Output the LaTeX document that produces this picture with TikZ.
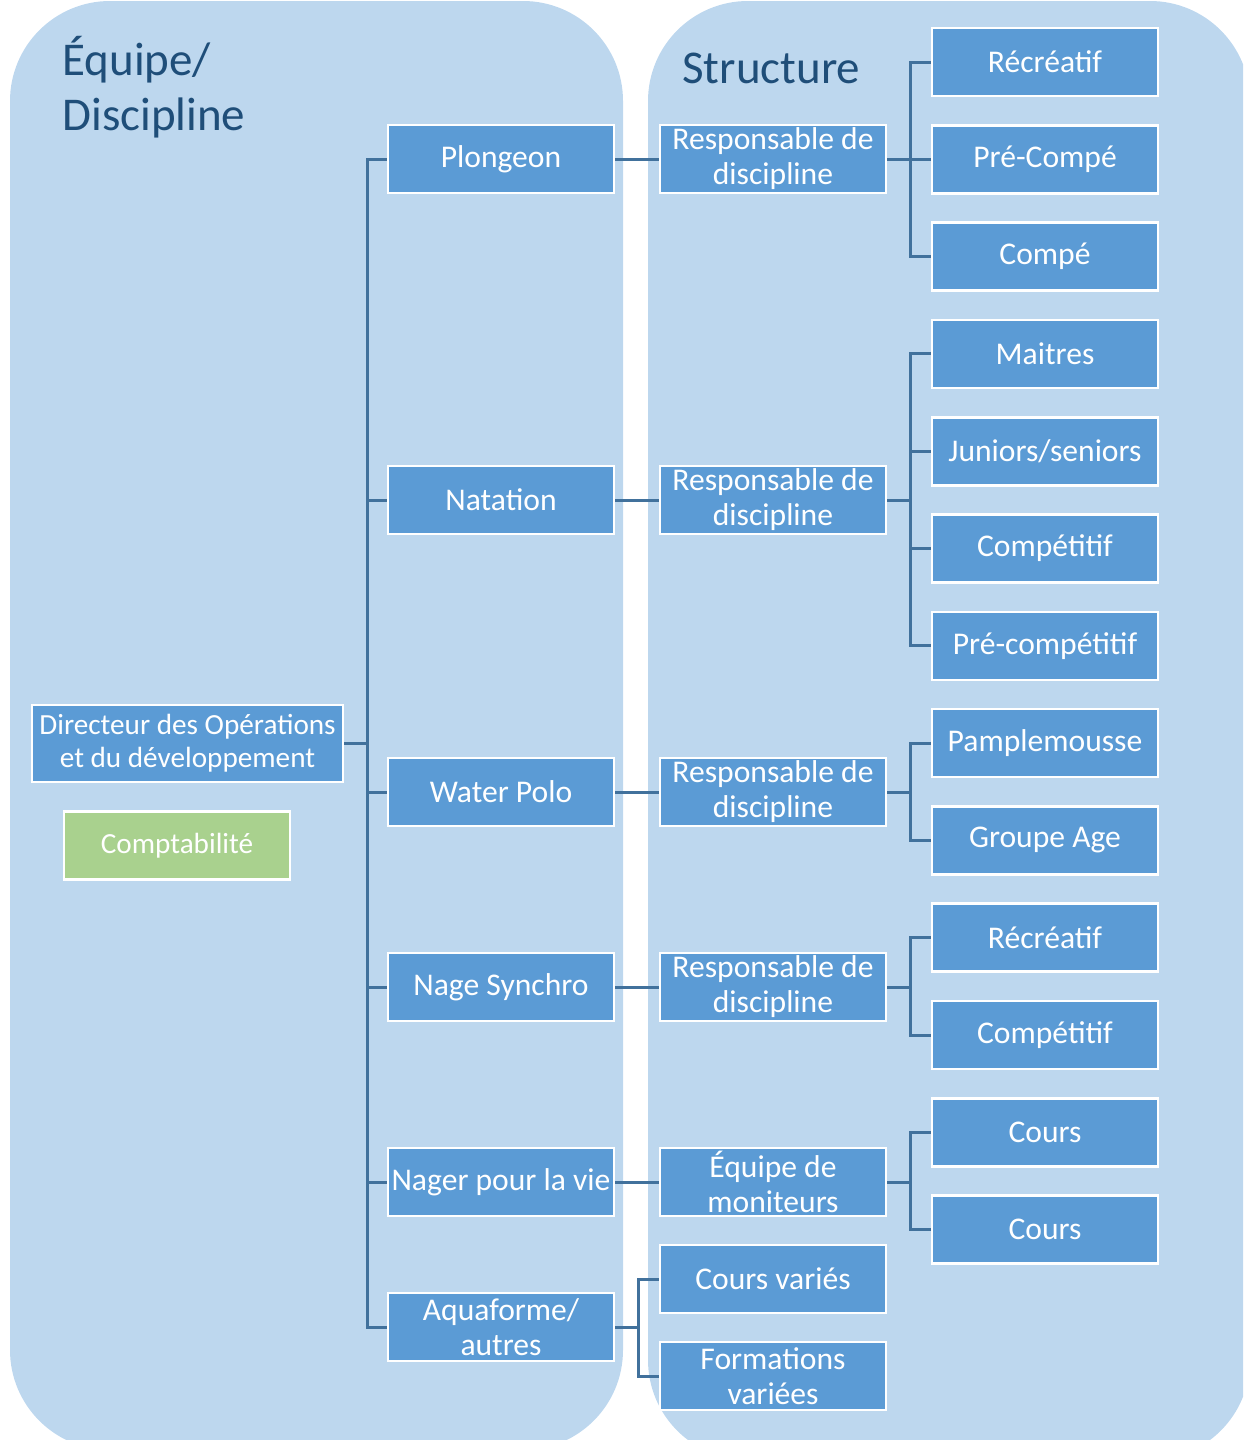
\documentclass[tikz,border=0pt]{standalone}
\usepackage{fontspec}
\setmainfont{Carlito}
\definecolor{panelblue}{HTML}{BDD7EE}
\definecolor{boxblue}{HTML}{5B9BD5}
\definecolor{linkblue}{HTML}{41719C}
\definecolor{titleblue}{HTML}{1F4E79}
\definecolor{boxgreen}{HTML}{A9D18E}
\begin{document}
\begin{tikzpicture}[x=0.5pt,y=-0.5pt,
  panel/.style={fill=panelblue, draw=none, rounded corners=50pt},
  box/.style={fill=boxblue, draw=white, line width=1.3pt, minimum width=113pt,
    minimum height=34pt, inner sep=0pt, text=white, align=center,
    font=\fontsize{15.8}{17.5}\selectfont},
  conn/.style={draw=linkblue, line width=1.5pt},
  title/.style={text=titleblue, font=\fontsize{23.5}{27}\selectfont, anchor=base west, inner sep=0pt}
]
\useasboundingbox (0,0) rectangle (1243,1440);
\clip (0,0) rectangle (1243,1440);

% panels
\path[panel] (10,1) rectangle (623,1450);
\path[panel] (648,1) rectangle (1250,1460);

% titles
\node[title] (t1) at (62,75) {Équipe/};
\node[title] (t2) at (62,130) {Discipline};
\node[title] (t3) at (682,83) {Structure};

% root
\node[box, minimum width=155.5pt, minimum height=38.5pt, font=\fontsize{14.6}{16.5}\selectfont]
  (dir) at (187.5,743.5) {Directeur des Opérations\\et du développement};
\node[box, fill=boxgreen, font=\fontsize{14.6}{16.5}\selectfont] (compta) at (177,845.5) {Comptabilité};

% disciplines
\node[box] (d1) at (501,159) {Plongeon};
\node[box] (d2) at (501,500) {Natation};
\node[box] (d3) at (501,792) {Water Polo};
\node[box] (d4) at (501,987) {Nage Synchro};
\node[box] (d5) at (501,1182) {Nager pour la vie};
\node[box] (d6) at (501,1327) {Aquaforme/\\autres};

% responsables
\node[box] (r1) at (773,159) {Responsable de\\discipline};
\node[box] (r2) at (773,500) {Responsable de\\discipline};
\node[box] (r3) at (773,792) {Responsable de\\discipline};
\node[box] (r4) at (773,987) {Responsable de\\discipline};
\node[box] (r5) at (773,1182) {Équipe de\\moniteurs};
\node[box] (r6) at (773,1279) {Cours variés};
\node[box] (r7) at (773,1376) {Formations\\variées};

% leaves
\node[box] (l1) at (1045,62) {Récréatif};
\node[box] (l2) at (1045,159.3) {Pré-Compé};
\node[box] (l3) at (1045,256.6) {Compé};
\node[box] (l4) at (1045,353.9) {Maitres};
\node[box] (l5) at (1045,451.2) {Juniors/seniors};
\node[box] (l6) at (1045,548.5) {Compétitif};
\node[box] (l7) at (1045,645.8) {Pré-compétitif};
\node[box] (l8) at (1045,743.1) {Pamplemousse};
\node[box] (l9) at (1045,840.4) {Groupe Age};
\node[box] (l10) at (1045,937.7) {Récréatif};
\node[box] (l11) at (1045,1035) {Compétitif};
\node[box] (l12) at (1045,1132.3) {Cours};
\node[box] (l13) at (1045,1229.6) {Cours};

% connectors
\foreach \c in {d1,d2,d3,d4,d5,d6}
  \draw[conn] (dir.east) -- ++(23,0) |- (\c.west);
\foreach \a/\b in {d1/r1,d2/r2,d3/r3,d4/r4,d5/r5,d6/r6,d6/r7,
  r1/l1,r1/l2,r1/l3,r2/l4,r2/l5,r2/l6,r2/l7,r3/l8,r3/l9,r4/l10,r4/l11,r5/l12,r5/l13}
  \draw[conn] (\a.east) -- ++(23,0) |- (\b.west);
\end{tikzpicture}
\end{document}
